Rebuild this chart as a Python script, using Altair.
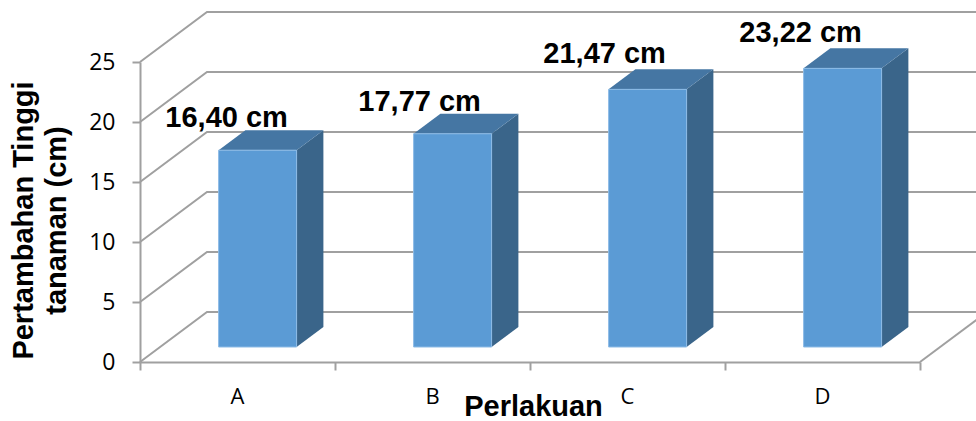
import altair as alt
import pandas as pd

# Plant height gain per treatment
categories = ["A", "B", "C", "D"]
values = [16.40, 17.77, 21.47, 23.22]
value_labels = ["16,40 cm", "17,77 cm", "21,47 cm", "23,22 cm"]
y_ticks = [0, 5, 10, 15, 20, 25]

# Oblique projection: one full depth step moves this far in x (category units) and y (value units)
DEPTH_X = 67 / 195
DEPTH_Y = 50 / 12
BAR_WIDTH = 0.4
Z_FRONT, Z_BACK = 0.3, 0.7

GRID = "#A0A0A0"
FRONT = "#5B9BD5"
TOP = "#4576A3"
SIDE = "#3A658A"
TITLE_FONT = "Liberation Sans"
TICK_FONT = "Open Sans"

x_scale = alt.Scale(domain=[0, 4], nice=False, zero=False)
y_scale = alt.Scale(domain=[0, 25], nice=False, zero=False)

# Real axes along the front edge of the floor, shared by every layer
x_axis = alt.Axis(
    values=[0, 1, 2, 3, 4], labels=False, grid=False, tickSize=8,
    tickColor=GRID, tickWidth=2, domainColor=GRID, domainWidth=2,
    title="Perlakuan", titleFont=TITLE_FONT, titleFontSize=29, titleFontWeight="bold",
    titleColor="black", titleX=393, titleY=44, titleAlign="center", titleBaseline="middle",
)
y_axis = alt.Axis(
    values=y_ticks, grid=False, tickSize=8, tickColor=GRID, tickWidth=2,
    domainColor=GRID, domainWidth=2, labelFont=TICK_FONT, labelFontSize=23,
    labelColor="black", labelPadding=17,
    title=["Pertambahan Tinggi", "tanaman (cm)"], titleFont=TITLE_FONT,
    titleFontSize=29, titleFontWeight="bold", titleColor="black",
    titleLineHeight=33, titleX=-117, titleY=158, titleAlign="center", titleBaseline="middle",
)
x_enc = alt.X("x:Q", scale=x_scale, axis=x_axis)
y_enc = alt.Y("y:Q", scale=y_scale, axis=y_axis)

# Wall and floor lines running back from the front axis
grid_rows = []
for v in y_ticks:
    grid_rows += [
        {"line": f"g{v}", "i": 0, "x": 0, "y": v},
        {"line": f"g{v}", "i": 1, "x": DEPTH_X, "y": v + DEPTH_Y},
        {"line": f"g{v}", "i": 2, "x": 4 + DEPTH_X, "y": v + DEPTH_Y},
    ]
grid_rows += [
    {"line": "edge", "i": 0, "x": 4, "y": 0},
    {"line": "edge", "i": 1, "x": 4 + DEPTH_X, "y": DEPTH_Y},
]
grid = alt.Chart(pd.DataFrame(grid_rows)).mark_line(
    color=GRID, strokeWidth=2, clip=False
).encode(x=x_enc, y=y_enc, detail="line:N", order="i:Q")

# Box faces for each bar
front_rows, top_rows, side_rows = [], [], []
dz = Z_BACK - Z_FRONT
for k, (cat, v) in enumerate(zip(categories, values)):
    x0 = k + 0.5 - BAR_WIDTH / 2 + Z_FRONT * DEPTH_X
    x1 = x0 + BAR_WIDTH
    base = Z_FRONT * DEPTH_Y
    top = v + base
    ddx, ddy = dz * DEPTH_X, dz * DEPTH_Y
    front_rows.append({"cat": cat, "x": x0, "x2": x1, "y": base, "y2": top})
    side_rows += [
        {"cat": cat, "x": x1, "y": base, "y2": top},
        {"cat": cat, "x": x1 + ddx, "y": base + ddy, "y2": top + ddy},
    ]
    top_rows += [
        {"cat": cat, "x": x0, "y": top, "y2": top},
        {"cat": cat, "x": x0 + ddx, "y": top, "y2": top + ddy},
        {"cat": cat, "x": x1, "y": top, "y2": top + ddy},
        {"cat": cat, "x": x1 + ddx, "y": top + ddy, "y2": top + ddy},
    ]

side = alt.Chart(pd.DataFrame(side_rows)).mark_area(color=SIDE, clip=False, interpolate="linear").encode(
    x=x_enc, y=y_enc, y2="y2:Q", detail="cat:N"
)
top_face = alt.Chart(pd.DataFrame(top_rows)).mark_area(color=TOP, clip=False, interpolate="linear").encode(
    x=x_enc, y=y_enc, y2="y2:Q", detail="cat:N"
)
front = alt.Chart(pd.DataFrame(front_rows)).mark_rect(
    color=FRONT, stroke="#8DBBE6", strokeWidth=1, clip=False
).encode(x=x_enc, x2="x2:Q", y=y_enc, y2="y2:Q")

# Category names centred under each slot
cat_df = pd.DataFrame({"cat": categories, "x": [k + 0.5 for k in range(4)]})
cat_text = alt.Chart(cat_df).mark_text(
    font=TICK_FONT, fontSize=22, color="black", align="center", baseline="middle", clip=False
).encode(x=x_enc, y=alt.value(335), text="cat:N")

# Value labels above each box, nudged individually
label_nudge = {"A": (-31, -32), "B": (-33, -32), "C": (-43, -35), "D": (-42, -35)}
label_layers = []
for k, cat in enumerate(categories):
    df = pd.DataFrame({
        "x": [k + 0.5 + Z_FRONT * DEPTH_X],
        "y": [values[k] + Z_FRONT * DEPTH_Y],
        "t": [value_labels[k]],
    })
    dx, dy = label_nudge[cat]
    label_layers.append(
        alt.Chart(df).mark_text(
            font=TITLE_FONT, fontSize=29, fontWeight="bold", color="black",
            align="center", baseline="middle", dx=dx, dy=dy, clip=False
        ).encode(x=x_enc, y=y_enc, text="t:N")
    )

chart = alt.layer(grid, side, top_face, front, cat_text, *label_layers).properties(
    width=780,
    height=300,
    padding={"left": 140, "top": 62, "right": 56, "bottom": 59},
    autosize=alt.AutoSizeParams(type="none"),
    background="white",
).configure_view(stroke=None)

chart.save("out.html", embed_options={"renderer": "svg", "actions": False})
